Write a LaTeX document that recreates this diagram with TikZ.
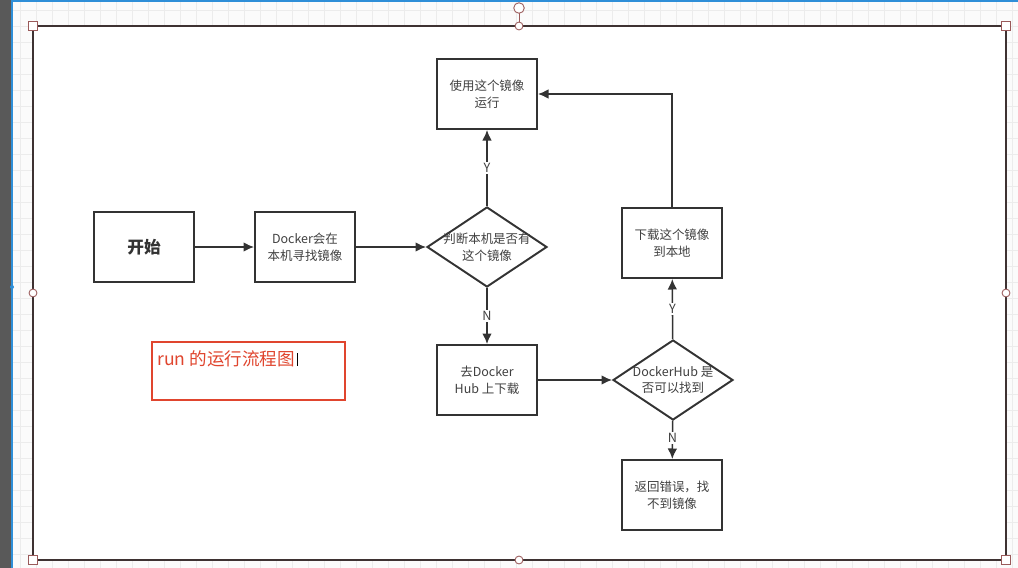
\documentclass[tikz,border=0pt]{standalone}
\usepackage{fontspec}
\setmainfont{Noto Sans CJK SC}
\usepackage{tikz}
\usetikzlibrary{shapes.geometric,arrows.meta}

\definecolor{ink}{HTML}{333333}
\definecolor{txt}{HTML}{404040}
\definecolor{frm}{HTML}{3E3232}
\definecolor{hdl}{HTML}{9A5A5A}
\definecolor{sel}{HTML}{2F8FD8}
\definecolor{redtxt}{HTML}{E0452E}

\tikzset{
  stepbox/.style={draw=ink, line width=1.1pt, fill=white, minimum width=2cm, minimum height=1.4cm, inner sep=0pt, align=center, text=txt, font=\fontsize{7.1}{9.6}\selectfont},
  choice/.style={draw=ink, line width=1.1pt, fill=white, shape=diamond, minimum width=2.4cm, minimum height=1.6cm, inner sep=0pt},
  flow/.style={draw=ink, line width=0.9pt, -{Latex[length=6pt,width=5.5pt]}},
  yn/.style={fill=white, text=txt, inner sep=1pt, font=\fontsize{7.2}{8}\selectfont},
  sq/.style={draw=hdl, fill=white, line width=0.5pt, minimum size=5pt, inner sep=0pt},
  rd/.style={draw=hdl, fill=white, line width=0.5pt, circle, minimum size=4.5pt, inner sep=0pt}
}

\begin{document}
\begin{tikzpicture}[x=0.02cm, y=-0.02cm]
  \useasboundingbox (0,0) rectangle (1018,568);
  % editor background
  \fill[gray!3] (12,0) rectangle (1018,568);
  \foreach \g in {20,36,...,1018} \draw[gray!15, line width=0.3pt] (\g,0) -- (\g,568);
  \foreach \g in {10,26,...,568} \draw[gray!15, line width=0.3pt] (12,\g) -- (1018,\g);
  \fill[black!65] (0,0) rectangle (11,568);
  \draw[sel, line width=1pt] (12,0) -- (12,568);
  \draw[sel, line width=1.5pt] (12,0.5) -- (1018,0.5);
  \fill[sel] (12,287) circle (2);

  % selected container
  \draw[frm, line width=1.2pt, fill=white] (33,26) rectangle (1006,560);
  \draw[hdl, line width=0.5pt] (519,8) -- (519,26);
  \node[rd, minimum size=6pt] (rot) at (519,8) {};
  \foreach \p/\q in {(33,26)/a, (1006,26)/b, (33,560)/c, (1006,560)/d} \node[sq] (h\q) at \p {};
  \foreach \p/\q in {(519,26)/n, (33,293)/w, (1006,293)/e, (519,560)/s} \node[rd] (m\q) at \p {};

  % flow chart
  \node[stepbox, font=\bfseries\fontsize{9.5}{11}\selectfont, text=ink] (start) at (144,247) {开始};
  \node[stepbox] (local) at (305,247) {Docker会在\\本机寻找镜像};
  \node[choice, label={[align=center, text=txt, font=\fontsize{7.1}{9.6}\selectfont]center:判断本机是否有\\这个镜像}] (has) at (487,247) {};
  \node[stepbox] (run) at (487,94) {使用这个镜像\\运行};
  \node[stepbox] (hub) at (487,380) {去Docker\\Hub 上下载};
  \node[choice, label={[align=center, text=txt, font=\fontsize{7.1}{9.6}\selectfont]center:DockerHub 是\\否可以找到}] (found) at (673,380) {};
  \node[stepbox] (pull) at (672,243) {下载这个镜像\\到本地};
  \node[stepbox] (err) at (672,495) {返回错误，找\\不到镜像};

  \draw[flow] (start) -- (local);
  \draw[flow] (local) -- (has);
  \draw[flow] (has) -- node[yn] {Y} (run);
  \draw[flow] (has) -- node[yn] {N} (hub);
  \draw[flow] (hub) -- (found);
  \draw[flow] (found) -- node[yn] {Y} (pull);
  \draw[flow] (found) -- node[yn, pos=0.45] {N} (err);
  \draw[flow] (pull.north) |- (run.east);

  % caption box
  \node[draw=redtxt, line width=0.9pt, minimum width=3.86cm, minimum height=1.16cm] (note) at (248.5,371) {};
  \node[anchor=west, text=redtxt, inner sep=0pt, font=\fontsize{10}{12}\selectfont] (title) at (157,359) {run 的运行流程图};
  \draw[black, line width=0.6pt] ([xshift=1.5pt]title.east) ++(0,-6) -- ++(0,13);
\end{tikzpicture}
\end{document}
